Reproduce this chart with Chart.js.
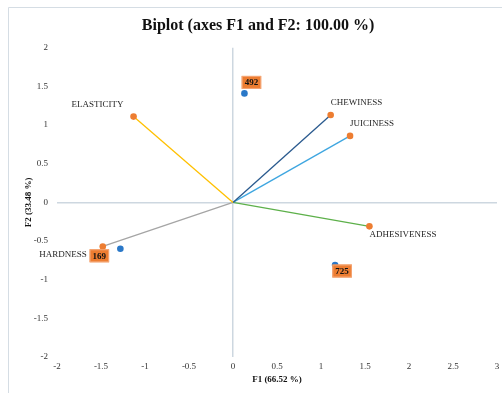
<!DOCTYPE html>
<html>
<head>
<meta charset="utf-8">
<script src="https://cdn.jsdelivr.net/npm/chart.js@4/dist/chart.umd.min.js"></script>
<style>
html,body{margin:0;padding:0;background:#fff;}
#wrap{width:502px;height:393px;position:relative;}
</style>
</head>
<body>
<div id="wrap"><canvas id="c" width="502" height="393"></canvas></div>
<script>
// ---- data ----
const chartTitle = 'Biplot (axes F1 and F2: 100.00 %)';
const xTitle = 'F1 (66.52 %)';
const yTitle = 'F2 (33.48 %)';
const varNames = ['ELASTICITY', 'CHEWINESS', 'JUICINESS', 'ADHESIVENESS', 'HARDNESS'];
const varF1 = [-1.13, 1.11, 1.33, 1.55, -1.48];
const varF2 = [1.11, 1.13, 0.86, -0.31, -0.57];
const obsNames = ['492', '169', '725'];
const obsF1 = [0.13, -1.28, 1.16];
const obsF2 = [1.41, -0.60, -0.81];
const xTicks = [-2, -1.5, -1, -0.5, 0, 0.5, 1, 1.5, 2, 2.5, 3];
const yTicks = [-2, -1.5, -1, -0.5, 0, 0.5, 1, 1.5, 2];

// ---- styles ----
const lineColors = ['#FFC000', '#2A5A8E', '#3EA6E0', '#5DB04A', '#A5A5A5'];
const varPointColor = '#ED7D31';
const obsPointColor = '#2A78C8';
// label placement: [dx, dy, align] relative to the point
const varLabelPlace = [[-10, -12, 'right'], [0, -12, 'left'], [0, -12, 'left'], [0, 8, 'left'], [-16, 8, 'right']];
const obsLabelPlace = [[7, -11], [-21, 7], [7, 6]];

const serif = '"Liberation Serif", "Times New Roman", serif';

const datasets = varNames.map((n, i) => ({
  label: n,
  type: 'scatter',
  showLine: true,
  data: [{x: 0, y: 0}, {x: varF1[i], y: varF2[i]}],
  borderColor: lineColors[i],
  borderWidth: 1.3,
  pointRadius: [0, 3.3],
  pointBackgroundColor: varPointColor,
  pointBorderColor: varPointColor,
  pointBorderWidth: 0
}));
datasets.push({
  label: 'obs',
  type: 'scatter',
  data: obsF1.map((x, i) => ({x: x, y: obsF2[i]})),
  pointRadius: 3.3,
  pointBackgroundColor: obsPointColor,
  pointBorderColor: obsPointColor,
  pointBorderWidth: 0
});

const framePlugin = {
  id: 'frame',
  beforeDraw(chart) {
    const ctx = chart.ctx;
    ctx.save();
    ctx.fillStyle = '#fff';
    ctx.fillRect(0, 0, chart.width, chart.height);
    ctx.strokeStyle = '#D5DDE4';
    ctx.lineWidth = 1;
    ctx.beginPath();
    ctx.moveTo(8.5, 400);
    ctx.lineTo(8.5, 7.5);
    ctx.lineTo(600, 7.5);
    ctx.stroke();
    ctx.restore();
  }
};

const labelPlugin = {
  id: 'labels',
  afterDatasetsDraw(chart) {
    const ctx = chart.ctx;
    ctx.save();
    ctx.textBaseline = 'middle';
    ctx.font = '9px ' + serif;
    ctx.fillStyle = '#262626';
    varNames.forEach((n, i) => {
      const el = chart.getDatasetMeta(i).data[1];
      const p = varLabelPlace[i];
      ctx.textAlign = p[2];
      ctx.fillText(n, el.x + p[0], el.y + p[1]);
    });
    const meta = chart.getDatasetMeta(varNames.length);
    ctx.font = 'bold 9px ' + serif;
    ctx.textAlign = 'center';
    obsNames.forEach((n, i) => {
      const el = meta.data[i];
      const p = obsLabelPlace[i];
      const cx = el.x + p[0], cy = el.y + p[1];
      const w = ctx.measureText(n).width + 6, h = 13;
      ctx.fillStyle = '#ED7D31';
      ctx.fillRect(cx - w / 2, cy - h / 2, w, h);
      ctx.strokeStyle = '#F4A777';
      ctx.lineWidth = 1;
      ctx.strokeRect(cx - w / 2 + 0.5, cy - h / 2 + 0.5, w - 1, h - 1);
      ctx.fillStyle = '#111';
      ctx.fillText(n, cx, cy + 0.5);
    });
    ctx.restore();
  }
};

const fmt = v => String(v);

new Chart(document.getElementById('c'), {
  type: 'scatter',
  data: {datasets: datasets},
  plugins: [framePlugin, labelPlugin],
  options: {
    responsive: false,
    animation: false,
    devicePixelRatio: 1,
    layout: {padding: {left: 19, right: 5, top: 0, bottom: 0}},
    plugins: {
      legend: {display: false},
      tooltip: {enabled: false},
      title: {
        display: true,
        text: chartTitle,
        color: '#111',
        font: {family: serif, size: 16, weight: 'bold'},
        padding: {top: 16, bottom: 12.6}
      }
    },
    scales: {
      x: {
        type: 'linear',
        min: -2, max: 3,
        afterBuildTicks(s) { s.ticks = xTicks.map(v => ({value: v})); },
        afterFit(s) { s.height = 36; s.paddingRight = 0; },
        border: {display: false},
        grid: {
          drawTicks: false,
          lineWidth: 1.5,
          color: c => (c.tick && c.tick.value === 0) ? '#CDD7E0' : 'rgba(0,0,0,0)'
        },
        ticks: {
          padding: 4,
          color: '#333',
          font: {family: serif, size: 9},
          maxRotation: 0,
          autoSkip: false,
          callback: fmt
        },
        title: {
          display: true,
          text: xTitle,
          color: '#111',
          font: {family: serif, size: 9, weight: 'bold'},
          padding: {top: 0, bottom: 7.6}
        }
      },
      y: {
        type: 'linear',
        min: -2, max: 2,
        afterBuildTicks(s) { s.ticks = yTicks.map(v => ({value: v})); },
        afterFit(s) { s.width = 38; },
        border: {display: false},
        grid: {
          drawTicks: false,
          lineWidth: 1.5,
          color: c => (c.tick && c.tick.value === 0) ? '#CDD7E0' : 'rgba(0,0,0,0)'
        },
        ticks: {
          padding: 9,
          color: '#333',
          font: {family: serif, size: 9},
          autoSkip: false,
          callback: fmt
        },
        title: {
          display: true,
          text: yTitle,
          color: '#111',
          font: {family: serif, size: 9, weight: 'bold'},
          padding: {top: 4, bottom: 0}
        }
      }
    }
  }
});
</script>
</body>
</html>
